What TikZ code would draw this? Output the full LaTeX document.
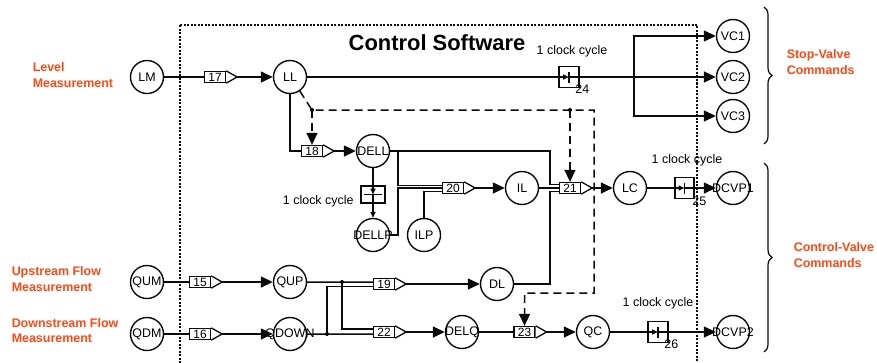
\documentclass[tikz,border=0pt]{standalone}
\usepackage{fontspec}
\setmainfont{Liberation Sans}
\usetikzlibrary{arrows.meta,positioning,decorations.pathreplacing}
\definecolor{signal}{RGB}{255,72,20}
\definecolor{ink}{RGB}{10,10,10}
\tikzset{
  >={Triangle[length=12bp,width=11bp]},
  blk/.style={circle,draw=ink,line width=1.4bp,minimum size=33bp,inner sep=0pt,label={center:#1}},
  gain/.style={draw=ink,fill=white,line width=1.3bp,minimum width=21bp,minimum height=11bp,
    inner sep=0pt,font=\fontsize{12}{12}\selectfont},
  delay/.style={draw=ink,line width=1.4bp,minimum width=20bp,minimum height=21bp,inner sep=0pt,
    path picture={\draw[line width=1.4bp] ([yshift=-5bp]path picture bounding box.north)
      -- ([yshift=5bp]path picture bounding box.south);}},
  vdelay/.style={draw=ink,line width=1.4bp,minimum width=24bp,minimum height=17bp,inner sep=0pt,
    path picture={\draw[line width=1.4bp] ([xshift=3bp]path picture bounding box.west)
      -- ([xshift=-3bp]path picture bounding box.east);}},
  inarr/.style={-{Triangle[length=6bp,width=5bp]}},
  feedback/.style={dash pattern=on 8bp off 5bp},
  tag/.style={font=\fontsize{12.5}{15.5}\selectfont\bfseries,text=signal,align=left,inner sep=0pt,anchor=west},
  note/.style={inner sep=0pt},
}
\begin{document}
\begin{tikzpicture}[x=1bp,y=1bp,line width=1.5bp,draw=ink,font=\fontsize{12.5}{15}\selectfont]
  \useasboundingbox (0,0) rectangle (877,-362);
  \draw[dash pattern=on 2bp off 1.5bp,line width=2bp] (180,-25) rectangle (697,-372);
  \node[font=\fontsize{22}{24}\selectfont\bfseries] (title) at (437,-43) {Control Software};
  % blocks
  \foreach \n/\t/\x/\y in {lm/LM/147/77,ll/LL/290/77,vc1/VC1/733/36,vc2/VC2/733/77,vc3/VC3/733/116,
    dell/DELL/373/151,dellp/DELLP/373/235,ilp/ILP/424/235,il/IL/522/188,lc/LC/630/188,dcvp1/DCVP1/733/188,
    qum/QUM/147/282,qup/QUP/290/282,dl/DL/497/284,qdm/QDM/147/334,qdown/QDOWN/290/334,
    delq/DELQ/462/332,qc/QC/593/332,dcvp2/DCVP2/733/332}
    \node[blk=\t] (\n) at (\x,-\y) {};
  % gains
  \foreach \n/\x/\y in {15/200/282,16/200/334,17/215/77,18/312/151,19/384/284,20/453/188,
    21/570/188,22/384/332,23/524.5/332}{
    \node[gain] (b\n) at (\x,-\y) {\n};
    \draw[fill=white,line width=1.3bp] (b\n.north east) -- ([xshift=11bp]b\n.east) coordinate (b\n-out)
      -- (b\n.south east);
  }
  % delays
  \node[delay] (d24) at (569,-77) {};
  \node[delay,minimum width=19bp] (d25) at (684.5,-188) {};
  \node[delay] (d26) at (658,-332) {};
  \node[vdelay] (dv) at (373,-194.5) {};
  \node[note,above=8bp of d24,xshift=3bp] (c24) {1 clock cycle};
  \node[note,above=10bp of d25,xshift=2.5bp] (c25) {1 clock cycle};
  \node[note,above=11bp of d26] (c26) {1 clock cycle};
  \node[note,left=6bp of dv,yshift=-7bp] (cdv) {1 clock cycle};
  \node[note,below right=-4.5bp and -5bp of d24] (n24) {24};
  \node[note,below right=-3bp and -3bp of d25] (n25) {25};
  \node[note,below right=-4bp and -5bp of d26] (n26) {26};
  % texts
  \node[tag] (lvl) at (32,-75) {Level\\Measurement};
  \node[tag] (ups) at (11,-279) {Upstream Flow\\Measurement};
  \node[tag] (dns) at (11,-330.5) {Downstream Flow\\Measurement};
  \node[tag] (svc) at (786,-62) {Stop-Valve\\Commands};
  \node[tag] (cvc) at (793,-255) {Control-Valve\\Commands};
  \draw[line width=1.2bp,decorate,decoration={brace,amplitude=8bp}] (764,-7) -- (764,-144);
  \draw[line width=1.2bp,decorate,decoration={brace,amplitude=8bp}] (764,-163) -- (764,-352);
  % level path
  \draw (lm) -- (b17);
  \draw[->] (b17-out) -- (ll);
  \draw[inarr] (ll) -- (d24.center);
  \draw[->] (d24.center) -- (vc2);
  \coordinate (sv) at (634,-77);
  \draw[->] (sv) |- (vc1);
  \draw[->] (sv) |- (vc3);
  \draw (ll.south) |- (b18.west);
  \draw[->] (b18-out) -- (dell);
  % feedback
  \coordinate (f1) at (312,-110);
  \coordinate (f2) at (b21 |- f1);
  \coordinate (f3) at (594,-110);
  \coordinate (f4) at (594,-293);
  \draw[feedback,->] (ll.-55) -- (f1) -- (f3) -- (f4) -- (b23 |- f4) -- (b23.north);
  \draw[feedback,->] (f1) -- (b18.north);
  \draw[feedback,->] (f2) -- (b21.north);
  \fill (f1) circle (2bp) (f2) circle (2bp);
  % dell to lc
  \draw (dell.east) -| ([xshift=-9bp,yshift=3.5bp]b21.west) -- ([yshift=3.5bp]b21.west);
  \draw ([xshift=8bp]dell.east) |- ([yshift=2.5bp]b20.west);
  \draw (dellp.east) -| ([xshift=-44bp]b20.west) -- (b20.west);
  \draw (ilp.north) |- ([yshift=-3.5bp]b20.west);
  \draw[inarr] (dell) -- (dv.center);
  \draw[inarr] (dv.center) -- (dellp);
  \draw[->] (b20-out) -- (il);
  \draw (il) -- (b21);
  \draw (dl.east) -| ([xshift=-9bp,yshift=-3.5bp]b21.west) -- ([yshift=-3.5bp]b21.west);
  \draw[->] (b21-out) -- (lc);
  \draw[inarr] (lc) -- (d25.center);
  \draw[->] (d25.center) -- (dcvp1);
  % flow path
  \draw (qum) -- (b15);
  \draw[->] (b15-out) -- (qup);
  \draw (qdm) -- (b16);
  \draw[->] (b16-out) -- (qdown);
  \coordinate (j1) at (342,-282);
  \coordinate (j2) at (327,-334);
  \draw (qup.east) -- ([yshift=2bp]b19.west);
  \draw (j1) |- ([yshift=3bp]b22.west);
  \draw (qdown.east) -- ([yshift=-2bp]b22.west);
  \draw (j2) |- ([yshift=-2.5bp]b19.west);
  \fill (j1) circle (2bp) (j2) circle (2bp);
  \draw[->] (b19-out) -- (dl);
  \draw[->] (b22-out) -- (delq);
  \draw (delq) -- (b23);
  \draw[->] (b23-out) -- (qc);
  \draw[inarr] (qc) -- (d26.center);
  \draw[->] (d26.center) -- (dcvp2);
\end{tikzpicture}
\end{document}
